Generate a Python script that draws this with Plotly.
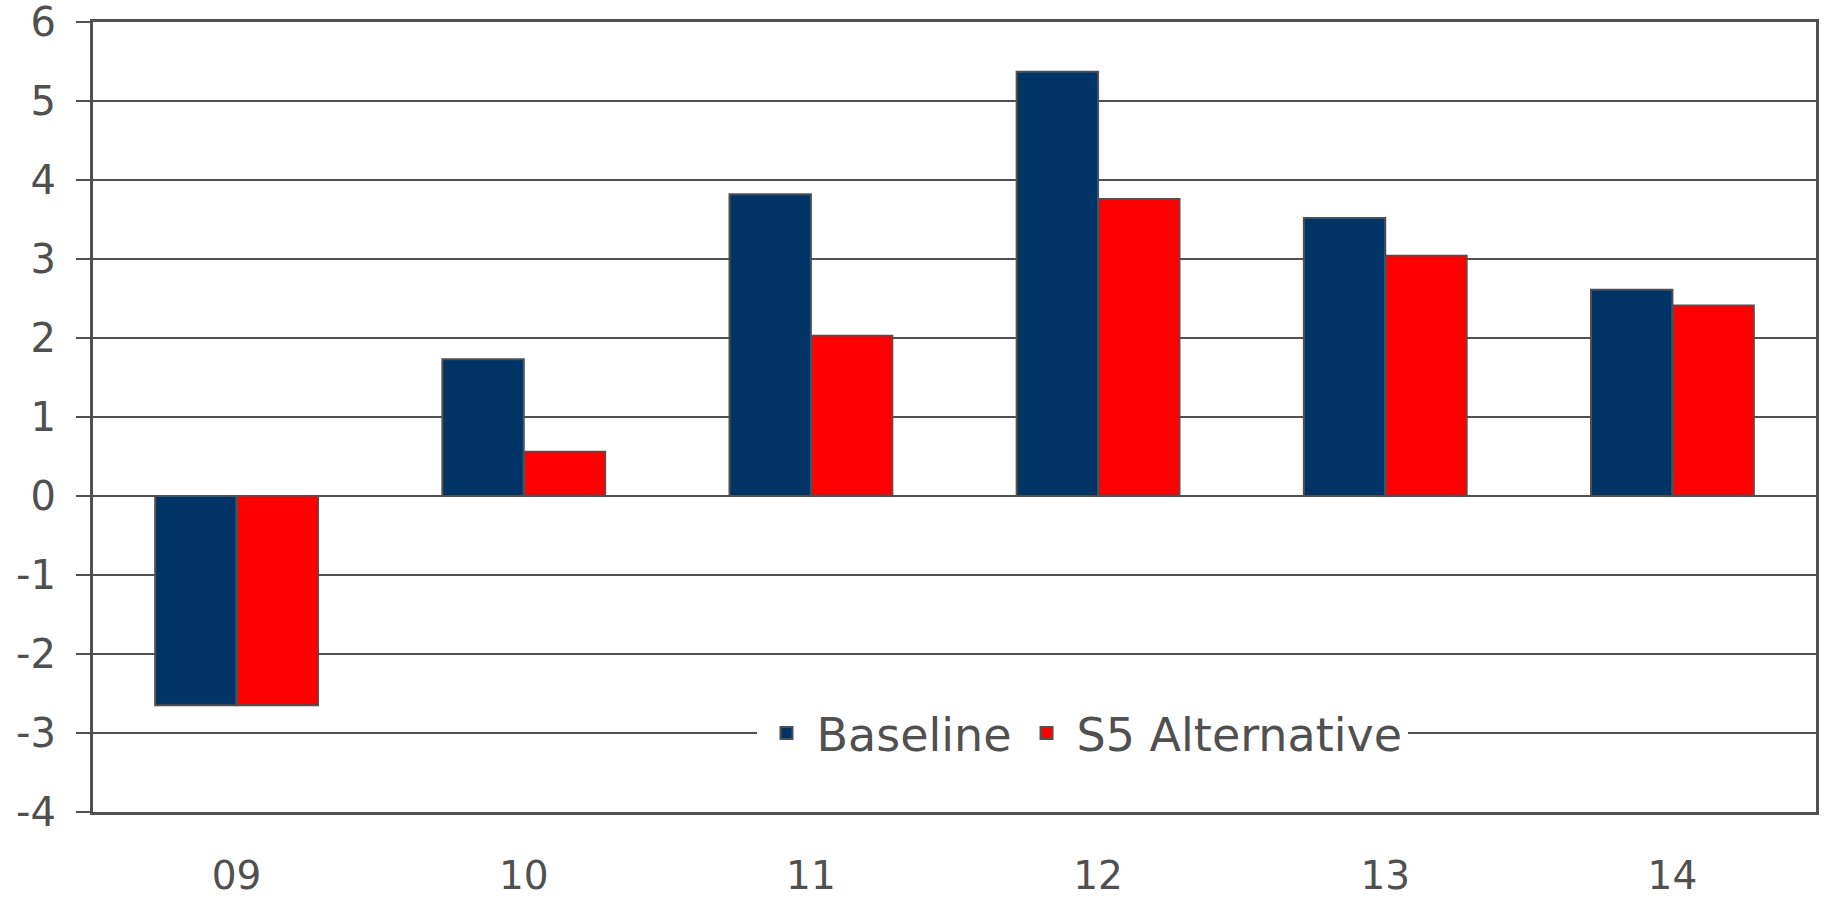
import plotly.graph_objects as go

categories = ["09", "10", "11", "12", "13", "14"]
baseline = [-2.65, 1.73, 3.82, 5.37, 3.52, 2.61]
s5_alternative = [-2.65, 0.56, 2.03, 3.76, 3.04, 2.41]
y_ticks = [6, 5, 4, 3, 2, 1, 0, -1, -2, -3, -4]

grey = "#505050"
font_family = "DejaVu Sans, Verdana, sans-serif"

fig = go.Figure()
fig.add_trace(go.Bar(
    x=categories, y=baseline, name="Baseline",
    marker=dict(color="#003366", line=dict(color=grey, width=2)),
))
fig.add_trace(go.Bar(
    x=categories, y=s5_alternative, name="S5 Alternative",
    marker=dict(color="#FF0000", line=dict(color=grey, width=2)),
))

fig.update_layout(
    width=1824, height=901,
    margin=dict(l=93, r=8, t=22, b=89, autoexpand=False),
    paper_bgcolor="white", plot_bgcolor="white",
    barmode="group", bargap=0.433, bargroupgap=0,
    font=dict(family=font_family, color=grey, size=40),
    legend=dict(
        orientation="h", x=0.574, y=0.1, xanchor="center", yanchor="middle",
        bgcolor="white", font=dict(size=46, color=grey),
        itemwidth=50, tracegroupgap=0,
    ),
    showlegend=True,
)
fig.update_xaxes(
    type="category", showgrid=False, showline=True, linecolor=grey, linewidth=3,
    mirror=True, ticks="", ticklabelstandoff=27, automargin=False,
    ticklabeloverflow="allow",
    tickfont=dict(size=39, color=grey),
)
fig.update_yaxes(
    range=[-4, 6], tickvals=y_ticks, ticktext=[str(v) for v in y_ticks],
    showgrid=True, gridcolor=grey, gridwidth=2,
    zeroline=True, zerolinecolor=grey, zerolinewidth=2,
    showline=True, linecolor=grey, linewidth=3, mirror=True,
    ticks="outside", ticklen=14, tickcolor=grey, tickwidth=2,
    ticklabelstandoff=12, automargin=False, ticklabeloverflow="allow",
    tickfont=dict(size=40, color=grey),
)

fig.write_html("out.html")
